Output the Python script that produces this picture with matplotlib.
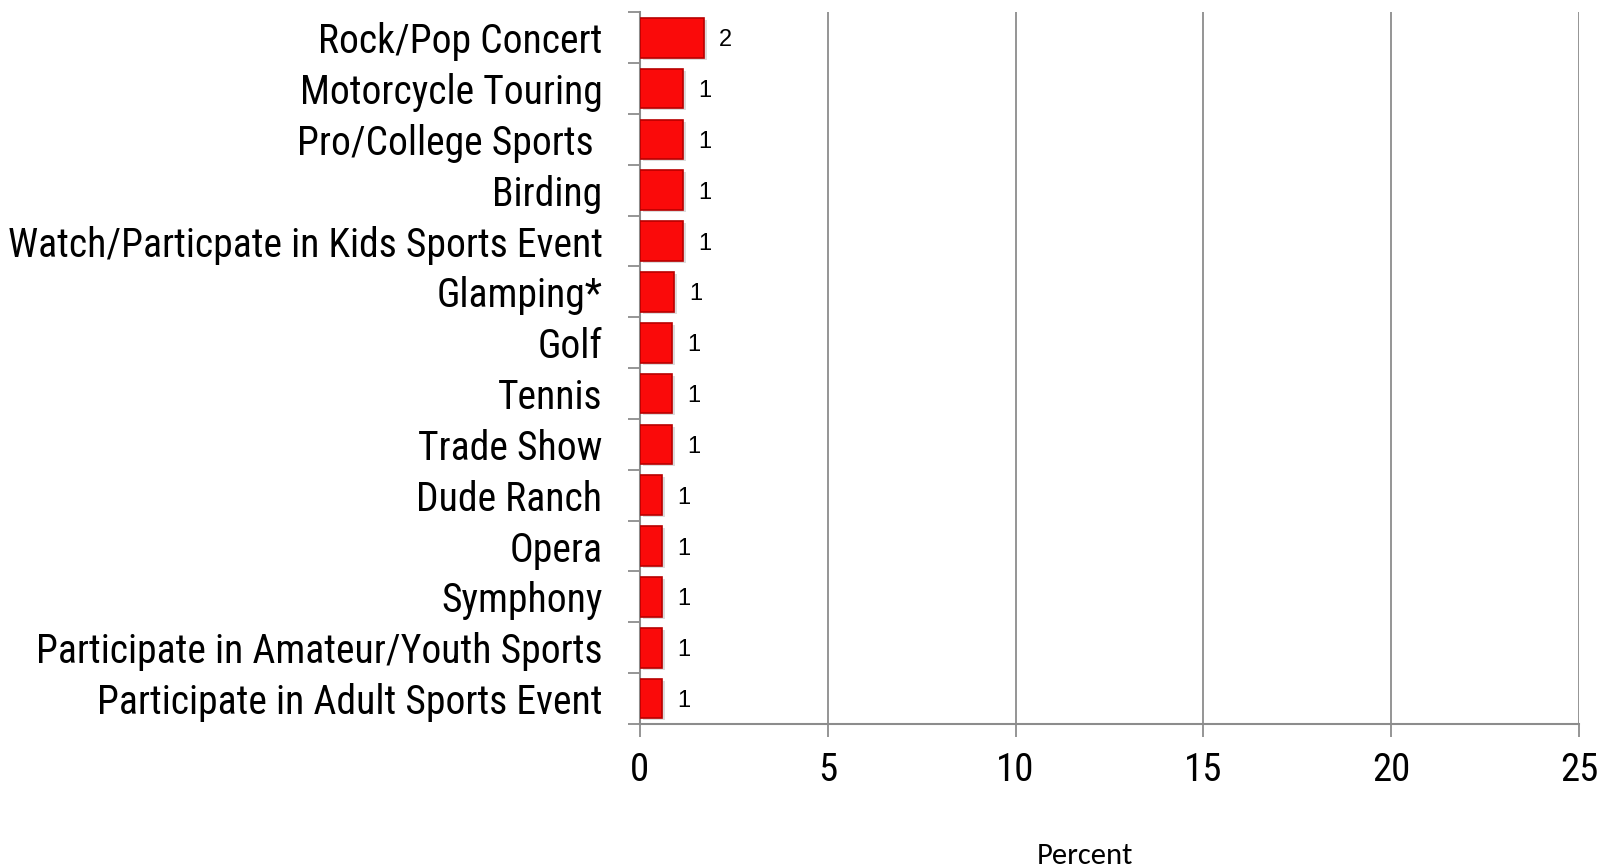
import matplotlib
matplotlib.use("Agg")
import matplotlib.pyplot as plt
from matplotlib import font_manager as fm
import numpy as np

categories = [
    "Rock/Pop Concert",
    "Motorcycle Touring",
    "Pro/College Sports ",
    "Birding",
    "Watch/Particpate in Kids Sports Event",
    "Glamping*",
    "Golf",
    "Tennis",
    "Trade Show",
    "Dude Ranch",
    "Opera",
    "Symphony",
    "Participate in Amateur/Youth Sports",
    "Participate in Adult Sports Event",
]
values = [1.70, 1.14, 1.14, 1.14, 1.14, 0.91, 0.85, 0.85, 0.85, 0.59, 0.59, 0.59, 0.59, 0.59]
xticks = [0, 5, 10, 15, 20, 25]

names = {f.name for f in fm.fontManager.ttflist}
def pick(cands, default):
    for c in cands:
        if c in names:
            return c
    return default

cond = pick(["Liberation Sans Narrow", "Arial Narrow", "Nimbus Sans Narrow", "Roboto Condensed",
             "Archivo Narrow", "PT Sans Narrow"], "DejaVu Sans")
cal = pick(["Carlito", "Calibri", "Open Sans"], "DejaVu Sans")
arial = pick(["Arimo", "Liberation Sans", "Arial"], "DejaVu Sans")

fig = plt.figure(figsize=(16.04, 8.68), dpi=100)
ax = fig.add_axes([640/1604, 1-724/868, (1579-640)/1604, (724-12.3)/868])

y = np.arange(len(categories))
# faint shadow
ax.barh(y + 0.04, values, height=0.78, left=0.08, color="#bbbbbb", alpha=0.5, zorder=2)
ax.barh(y, values, height=0.78, color="#fa0a0a", edgecolor="#b80000", linewidth=1.2, zorder=3)

for yi, v in zip(y, values):
    ax.annotate(f"{v:.0f}", xy=(v, yi), xytext=(11, 0), textcoords="offset points",
                ha="left", va="center_baseline", fontsize=17, family=arial, color="black")

ax.set_xlim(0, 25)
ax.set_ylim(len(categories) - 0.5, -0.5)
ax.set_xticks(xticks)
ax.set_xticklabels([str(t) for t in xticks], fontsize=28, family=cond)
ax.set_yticks(y)
ax.set_yticklabels(categories, fontsize=28.5, family=cond)
ax.set_yticks(np.arange(len(categories) + 1) - 0.5, minor=True)
ax.tick_params(axis="y", which="major", length=0, pad=27)
ax.tick_params(axis="y", which="minor", length=9, width=1.3, color="#8c8c8c", direction="out")
ax.tick_params(axis="x", which="major", length=9, width=1.3, color="#8c8c8c", direction="out", pad=11)

ax.grid(axis="x", color="#8c8c8c", linewidth=1.3, zorder=0)
ax.set_axisbelow(True)
for s in ["top", "right"]:
    ax.spines[s].set_visible(False)
for s in ["left", "bottom"]:
    ax.spines[s].set_color("#8c8c8c")
    ax.spines[s].set_linewidth(1.5)

fig.text(1085/1604, 1-856/868, "Percent", ha="center", va="center", fontsize=22,
         family=cal, color="black")

fig.savefig("out.png", dpi=100)
